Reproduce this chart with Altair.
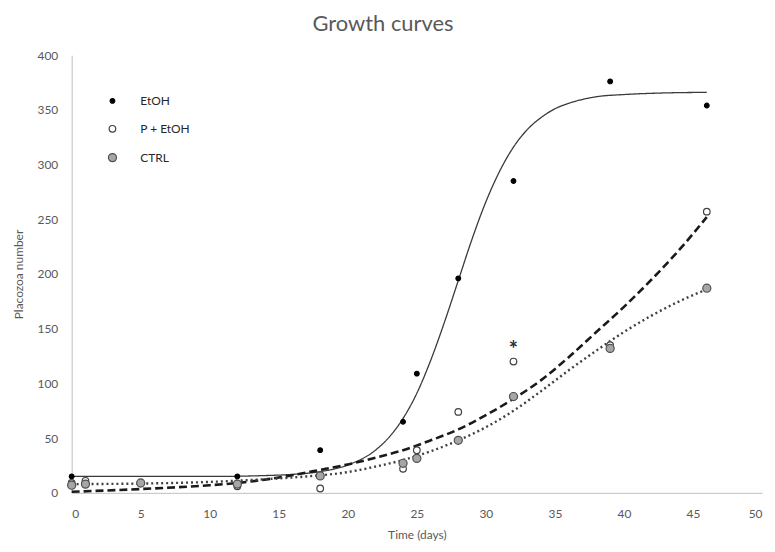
import altair as alt
import pandas as pd

FONT = "Lato"
GREY = "#595959"

series = ["EtOH", "P + EtOH", "CTRL"]

etoh_days = [0, 12, 18, 24, 25, 28, 32, 39, 46]
etoh_vals = [15, 15, 39, 65, 109, 196, 285, 376, 354]

pe_days = [0, 1, 5, 12, 18, 24, 25, 28, 32, 39, 46]
pe_vals = [9, 11, 9, 6, 4, 22, 39, 74, 120, 135, 257]

ctrl_days = [0, 1, 5, 12, 18, 24, 25, 28, 32, 39, 46]
ctrl_vals = [7, 8, 9, 8, 15.5, 27, 31.5, 48, 88, 132, 187]

# trend curves
etoh_fit_days = [0, 5, 10, 14, 16, 18, 20, 22, 23, 24, 25, 26, 27, 28, 29, 30, 31, 32, 33, 34, 35, 36, 38, 40, 43, 46]
etoh_fit_vals = [15, 15, 15, 15.8, 16.9, 19.4, 25.5, 39, 51, 68, 91, 121, 156, 194, 232, 266, 294, 316, 332, 343, 351, 356, 362, 364, 365.5, 366]

pe_fit_days = [0, 5, 10, 12, 15, 18, 20, 22, 24, 26, 28, 30, 32, 34, 36, 38, 40, 42, 44, 46]
pe_fit_vals = [1, 3.5, 7, 9, 14, 21, 26, 32, 39, 48, 58, 71, 86, 103, 124, 147, 170, 195, 222, 252]

ctrl_fit_days = [0, 5, 10, 14, 17, 20, 22, 24, 26, 28, 30, 32, 34, 36, 38, 40, 42, 44, 46]
ctrl_fit_vals = [8, 8.5, 10, 12.5, 15, 19, 24, 30, 38, 48, 60, 75, 93, 112, 130, 147, 162, 175, 186]

note_day = [32]
note_val = [135]
note_text = ["*"]

points = pd.concat([
    pd.DataFrame({"day": etoh_days, "n": etoh_vals, "series": series[0]}),
    pd.DataFrame({"day": pe_days, "n": pe_vals, "series": series[1]}),
    pd.DataFrame({"day": ctrl_days, "n": ctrl_vals, "series": series[2]}),
])

x_scale = alt.Scale(domain=[0, 50], nice=False)
y_scale = alt.Scale(domain=[0, 400], nice=False)
x_axis = alt.Axis(values=list(range(0, 51, 5)), title="Time (days)", grid=False, ticks=False,
                  domainColor="#bfbfbf", labelColor=GREY, titleColor=GREY, labelFont=FONT,
                  titleFont=FONT, labelFontSize=12, titleFontSize=12, titleFontWeight="normal",
                  labelPadding=16, titlePadding=10)
y_axis = alt.Axis(values=list(range(0, 401, 50)), title="Placozoa number", grid=False, ticks=False,
                  domainColor="#bfbfbf", labelColor=GREY, titleColor=GREY, labelFont=FONT,
                  titleFont=FONT, labelFontSize=12, titleFontSize=12, titleFontWeight="normal",
                  labelPadding=14, titlePadding=12)


def curve(days, vals, color, width, dash):
    df = pd.DataFrame({"day": days, "n": vals})
    return alt.Chart(df).mark_line(interpolate="monotone", color=color, strokeWidth=width,
                                   strokeDash=dash).encode(
        x=alt.X("day:Q", scale=x_scale, axis=x_axis),
        y=alt.Y("n:Q", scale=y_scale, axis=y_axis),
    )


line_etoh = curve(etoh_fit_days, etoh_fit_vals, "#3a3a3a", 1.3, [1, 0])
line_pe = curve(pe_fit_days, pe_fit_vals, "#1a1a1a", 2.6, [8, 4])
line_ctrl = curve(ctrl_fit_days, ctrl_fit_vals, "#404040", 2.4, [2, 3])

pts = alt.Chart(points).mark_point(shape="circle", filled=True, opacity=1, strokeWidth=1.2).encode(
    x=alt.X("day:Q", scale=x_scale, axis=x_axis),
    y=alt.Y("n:Q", scale=y_scale, axis=y_axis),
    fill=alt.Fill("series:N", scale=alt.Scale(domain=series, range=["#000000", "#ffffff", "#a6a6a6"]),
                  legend=alt.Legend(title=None)),
    stroke=alt.Stroke("series:N", scale=alt.Scale(domain=series, range=["#000000", "#404040", "#505050"]),
                      legend=alt.Legend(title=None)),
    size=alt.Size("series:N", scale=alt.Scale(domain=series, range=[22, 66, 66]),
                  legend=alt.Legend(title=None)),
    order=alt.Order("order:Q"),
).transform_calculate(order="indexof(['EtOH','P + EtOH','CTRL'], datum.series)")

note = alt.Chart(pd.DataFrame({"day": note_day, "n": note_val, "t": note_text})).mark_text(
    font=FONT, fontSize=22, fontWeight="bold", color="#2b2b40", baseline="middle", dy=5
).encode(
    x=alt.X("day:Q", scale=x_scale, axis=x_axis),
    y=alt.Y("n:Q", scale=y_scale, axis=y_axis),
    text="t:N",
)

chart = alt.layer(line_etoh, line_pe, line_ctrl, pts, note).properties(
    width=694,
    height=440,
    autosize=alt.AutoSizeParams(type="none"),
    padding={"left": 64, "top": 46, "right": 5, "bottom": 50},
    title=alt.TitleParams("Growth curves", font=FONT, fontSize=22, fontWeight="normal",
                          color=GREY, offset=13, dx=-34, anchor="middle"),
).configure_view(stroke=None).configure_legend(
    orient="none", legendX=35, legendY=40, labelFont=FONT, labelFontSize=12, labelColor="#262626",
    labelOffset=22, rowPadding=16, padding=0, symbolStrokeWidth=1.2,
)

chart.save("out.html", embed_options={"renderer": "svg", "actions": False})
